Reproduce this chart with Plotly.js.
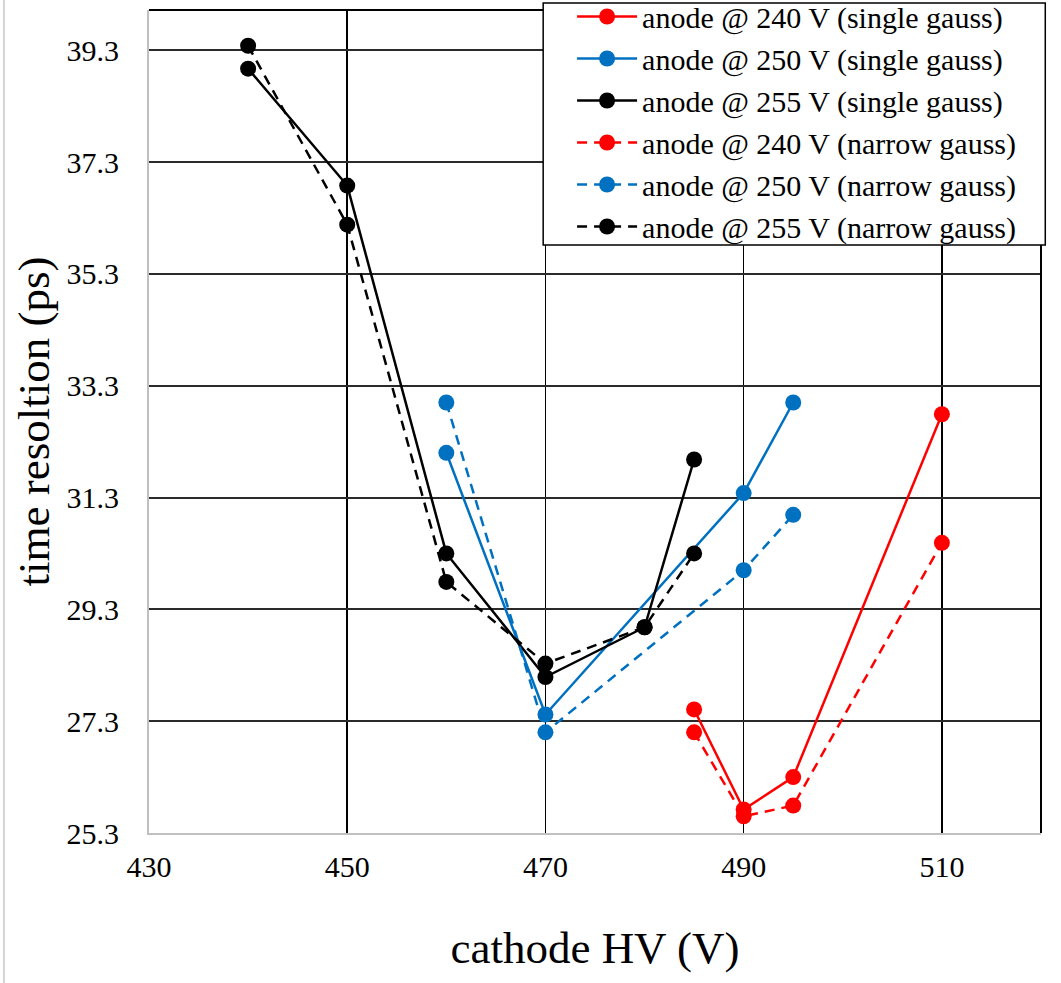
<!DOCTYPE html>
<html>
<head>
<meta charset="utf-8">
<script src="https://cdn.plot.ly/plotly-3.0.1.min.js"></script>
<style>
  html, body { margin: 0; padding: 0; background: #fff; }
  #chart { width: 1061px; height: 983px; }
</style>
</head>
<body>
<div id="chart"></div>
<script>
// ---- data ----
const seriesNames = [
  "anode @ 240 V (single gauss)",
  "anode @ 250 V (single gauss)",
  "anode @ 255 V (single gauss)",
  "anode @ 240 V (narrow gauss)",
  "anode @ 250 V (narrow gauss)",
  "anode @ 255 V (narrow gauss)"
];
const x240 = [485, 490, 495, 510];
const x250 = [460, 470, 490, 495];
const x255 = [440, 450, 460, 470, 480, 485];

const single240 = [27.51, 25.72, 26.30, 32.79];
const single250 = [32.10, 27.42, 31.38, 33.00];
const single255 = [38.97, 36.88, 30.30, 28.09, 28.98, 31.98];

const narrow240 = [27.10, 25.60, 25.79, 30.49];
const narrow250 = [33.00, 27.10, 30.00, 30.99];
const narrow255 = [39.38, 36.18, 29.79, 28.33, 28.98, 30.30];

const yTickVals = [25.3, 27.3, 29.3, 31.3, 33.3, 35.3, 37.3, 39.3];
const xTickVals = [430, 450, 470, 490, 510];

// ---- styling ----
const RED = "#FF0000", BLUE = "#0070C0", BLACK = "#000000";
const FONT = '"Liberation Serif", "Times New Roman", serif';

function mk(name, xs, ys, color, dashed) {
  return {
    type: "scatter", mode: "lines+markers", name: name,
    x: xs, y: ys,
    line: { color: color, width: 2.5, dash: dashed ? "10px,7px" : "solid" },
    marker: { color: color, size: 16 }
  };
}

const data = [
  mk(seriesNames[0], x240, single240, RED, false),
  mk(seriesNames[1], x250, single250, BLUE, false),
  mk(seriesNames[2], x255, single255, BLACK, false),
  mk(seriesNames[3], x240, narrow240, RED, true),
  mk(seriesNames[4], x250, narrow250, BLUE, true),
  mk(seriesNames[5], x255, narrow255, BLACK, true)
];

const layout = {
  width: 1061, height: 983,
  margin: { l: 149, r: 20, t: 10, b: 150, pad: 0, autoexpand: false },
  paper_bgcolor: "#fff", plot_bgcolor: "#fff",
  font: { family: FONT, color: "#000", size: 30 },
  showlegend: true,
  legend: {
    x: 0.4743, xanchor: "left", y: 1.0237, yanchor: "top",
    bgcolor: "rgba(0,0,0,0)", bordercolor: "rgba(0,0,0,0)", borderwidth: 0,
    font: { family: FONT, size: 30, color: "#000" },
    itemwidth: 60, tracegroupgap: 0
  },
  xaxis: {
    range: [430, 520], tickvals: xTickVals, ticktext: xTickVals.map(String),
    showgrid: true, gridcolor: "#000", gridwidth: 1.5,
    showline: true, linecolor: "#c0c0c0", linewidth: 2,
    zeroline: false, ticks: "", ticklen: 0, ticklabelstandoff: 6,
    tickfont: { family: FONT, size: 30, color: "#000" },
    title: { text: "cathode HV (V)", font: { family: FONT, size: 45, color: "#000" }, standoff: 49 },
    automargin: false
  },
  yaxis: {
    range: [25.3, 40.02], tickvals: yTickVals, ticktext: yTickVals.map(v => v.toFixed(1)),
    showgrid: true, gridcolor: "#2a2a2a", gridwidth: 2,
    showline: true, linecolor: "#c0c0c0", linewidth: 2,
    zeroline: false, ticks: "", ticklen: 0, ticklabelstandoff: 22,
    tickfont: { family: FONT, size: 30, color: "#000" },
    title: { text: "time resoltion (ps)", font: { family: FONT, size: 45, color: "#000" }, standoff: 3 },
    automargin: false
  },
  shapes: [
    { type: "line", xref: "paper", yref: "paper", x0: 0, x1: 1, y0: 1, y1: 1, line: { color: "#000", width: 2 } },
    { type: "line", xref: "paper", yref: "paper", x0: 1, x1: 1, y0: 0, y1: 1, line: { color: "#000", width: 2 } },
    { type: "line", xref: "paper", yref: "paper", x0: -0.1626, x1: -0.1626, y0: -0.19, y1: 1.02, line: { color: "#c8c8c8", width: 1.5 } },
    { type: "rect", xref: "paper", yref: "paper", layer: "above",
      x0: 0.4419, x1: 1.0048, y0: 0.7145, y1: 1.0085,
      fillcolor: "#fff", line: { color: "#000", width: 1.5 } }
  ]
};

Plotly.newPlot("chart", data, layout, { displayModeBar: false, staticPlot: true });
</script>
</body>
</html>
